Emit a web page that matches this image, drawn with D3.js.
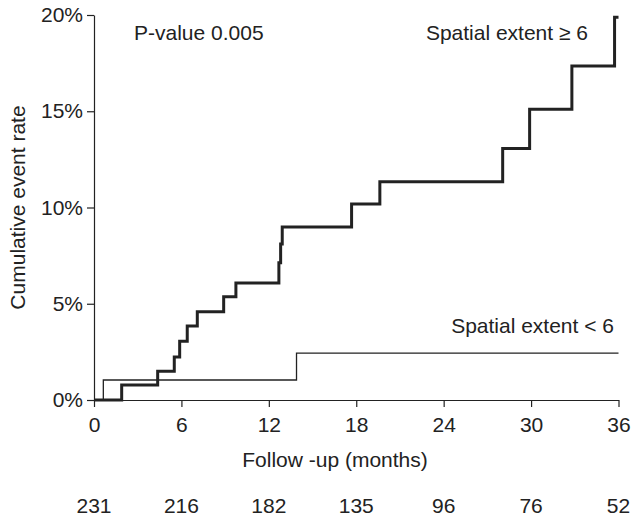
<!DOCTYPE html>
<html>
<head>
<meta charset="utf-8">
<script src="https://cdn.jsdelivr.net/npm/d3@7"></script>
<style>
  body { margin: 0; background: #fff; }
  text { font-family: "Liberation Sans", Arial, sans-serif; fill: #222; }
  .axis path, .axis line { stroke: #222; stroke-width: 1.2; }
  .axis text { font-size: 21px; }
</style>
</head>
<body>
<div id="chart"></div>
<script>
var width = 637,
    height = 517;

// step curve for spatial extent >= 6 (months, cumulative rate in %)
var highTimes = [0, 1.9, 4.37, 5.51, 5.88, 6.4, 7.09, 8.9, 9.74, 12.69, 12.81, 12.92, 17.68, 19.62, 28.05, 29.9, 32.8, 35.73, 36];
var highRates = [0, 0.78, 1.49, 2.23, 3.05, 3.84, 4.59, 5.37, 6.08, 7.13, 8.1, 8.99, 10.18, 11.34, 13.07, 15.1, 17.35, 19.88, 19.88];

// step curve for spatial extent < 6
var lowTimes = [0, 0.64, 13.9, 36];
var lowRates = [0, 1.04, 2.43, 2.43];

var xTicks = [0, 6, 12, 18, 24, 30, 36];
var yTicks = [0, 5, 10, 15, 20];
var atRisk = [231, 216, 182, 135, 96, 76, 52];

var margin = {top: 15, right: 18, bottom: 117, left: 94};

var x = d3.scaleLinear()
    .domain([0, 36])
    .range([margin.left, width - margin.right - 0.5]);

var y = d3.scaleLinear()
    .domain([0, 20])
    .range([height - margin.bottom, margin.top]);

var svg = d3.select("#chart").append("svg")
    .attr("width", width)
    .attr("height", height);

// axes
svg.append("g")
    .attr("class", "axis")
    .attr("transform", "translate(0," + y(0) + ")")
    .call(d3.axisBottom(x).tickValues(xTicks).tickSize(7).tickSizeOuter(0).tickPadding(5))
  .selectAll("text")
    .attr("dy", "0.95em");

svg.append("g")
    .attr("class", "axis")
    .attr("transform", "translate(" + x(0) + ",0)")
    .call(d3.axisLeft(y).tickValues(yTicks).tickSize(7).tickSizeOuter(0).tickPadding(4)
      .tickFormat(function(d) { return d + "%"; }));

var line = d3.line()
    .x(function(d) { return x(d[0]); })
    .y(function(d) { return y(d[1]); })
    .curve(d3.curveStepAfter);

svg.append("path")
    .datum(d3.zip(lowTimes, lowRates))
    .attr("d", line)
    .attr("fill", "none")
    .attr("stroke", "#222")
    .attr("stroke-width", 1.3);

svg.append("path")
    .datum(d3.zip(highTimes, highRates))
    .attr("d", line)
    .attr("fill", "none")
    .attr("stroke", "#222")
    .attr("stroke-width", 3);

// labels
svg.append("text")
    .attr("x", 134)
    .attr("y", 40)
    .style("font-size", "21px")
    .text("P-value 0.005");

svg.append("text")
    .attr("x", 588)
    .attr("y", 40)
    .attr("text-anchor", "end")
    .style("font-size", "21px")
    .text("Spatial extent \u2265 6");

svg.append("text")
    .attr("x", 614)
    .attr("y", 333)
    .attr("text-anchor", "end")
    .style("font-size", "21px")
    .text("Spatial extent < 6");

svg.append("text")
    .attr("transform", "translate(25," + y(10) + ") rotate(-90)")
    .attr("text-anchor", "middle")
    .style("font-size", "21px")
    .text("Cumulative event rate");

svg.append("text")
    .attr("x", 335)
    .attr("y", 467)
    .attr("text-anchor", "middle")
    .style("font-size", "21px")
    .text("Follow -up (months)");

// numbers at risk
svg.append("g").selectAll("text")
    .data(atRisk)
  .enter().append("text")
    .attr("x", function(d, i) { return x(xTicks[i]); })
    .attr("y", 513)
    .attr("text-anchor", "middle")
    .style("font-size", "21px")
    .text(function(d) { return d; });
</script>
</body>
</html>
